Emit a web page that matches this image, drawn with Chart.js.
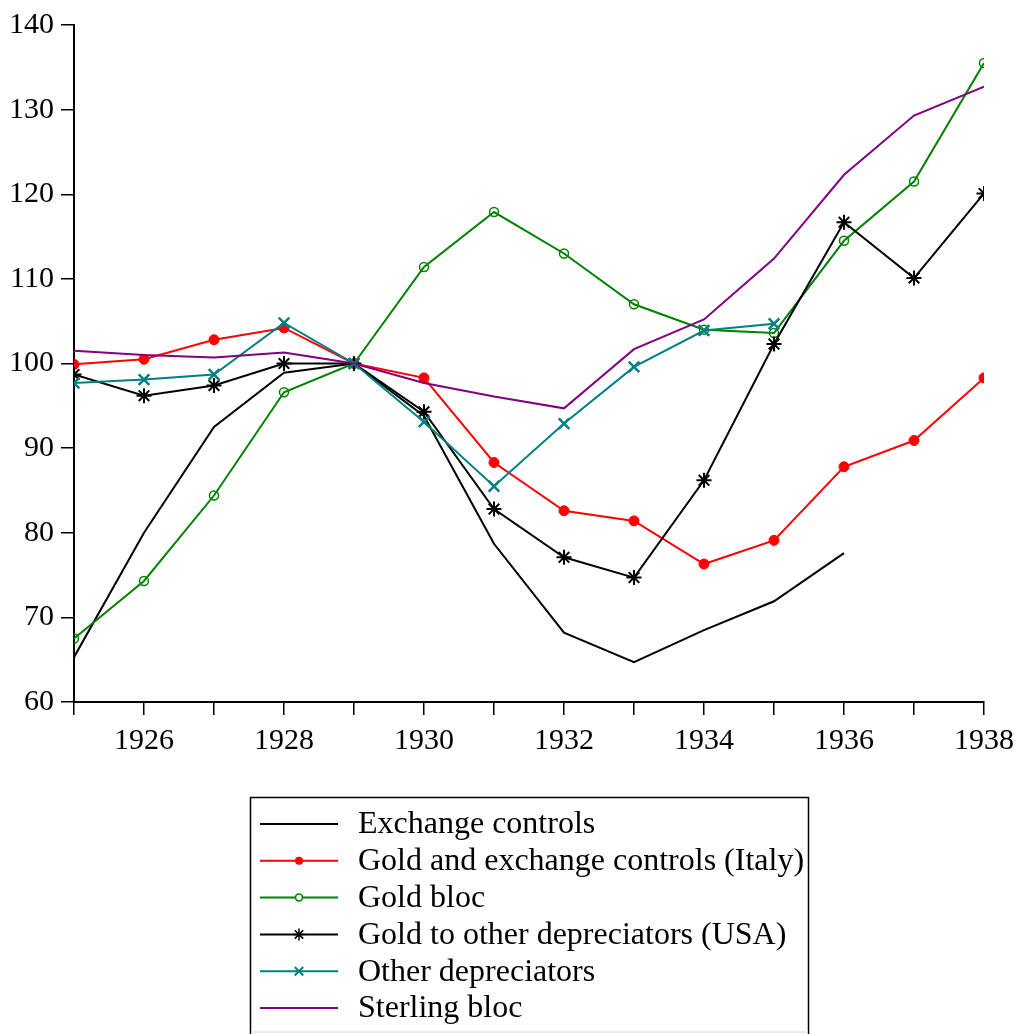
<!DOCTYPE html>
<html>
<head>
<meta charset="utf-8">
<script src="https://cdn.jsdelivr.net/npm/chart.js@4/dist/chart.umd.min.js"></script>
<style>
  html, body { margin: 0; padding: 0; background: #fff; }
  #wrap { width: 1022px; height: 1034px; }
</style>
</head>
<body>
<div id="wrap"><canvas id="c" width="1022" height="1034"></canvas></div>
<script>
const years = [1925, 1926, 1927, 1928, 1929, 1930, 1931, 1932, 1933, 1934, 1935, 1936, 1937, 1938];
const exchangeControls = [65.3, 80.0, 92.5, 98.9, 100, 93.8, 78.7, 68.2, 64.7, 68.5, 71.9, 77.6, null, null];
const goldExchangeItaly = [99.9, 100.5, 102.8, 104.2, 100, 98.3, 88.3, 82.6, 81.4, 76.3, 79.1, 87.8, 90.9, 98.3];
const goldBloc = [67.5, 74.3, 84.4, 96.6, 100, 111.4, 117.9, 113.0, 107.0, 104.0, 103.6, 114.5, 121.5, 135.5];
const goldToOtherUSA = [98.7, 96.2, 97.4, 100.0, 100, 94.3, 82.8, 77.1, 74.7, 86.2, 102.3, 116.7, 110.1, 120.1];
const otherDepreciators = [97.7, 98.1, 98.7, 104.8, 100, 93.1, 85.5, 92.9, 99.6, 103.9, 104.7, null, null, null];
const sterlingBloc = [101.5, 101.0, 100.7, 101.3, 100, 97.7, 96.1, 94.7, 101.7, 105.2, 112.4, 122.3, 129.3, 132.7];
const seriesNames = ["Exchange controls", "Gold and exchange controls (Italy)", "Gold bloc", "Gold to other depreciators (USA)", "Other depreciators", "Sterling bloc"];
const yTicks = [60, 70, 80, 90, 100, 110, 120, 130, 140];
const xLabelYears = [1926, 1928, 1930, 1932, 1934, 1936, 1938];

const FONT = "'Liberation Serif', 'Times New Roman', serif";

function pts(arr) {
  const out = [];
  arr.forEach((v, i) => { if (v !== null) out.push({ x: years[i], y: v }); });
  return out;
}

const styles = [
  { color: '#000000', pointStyle: 'circle', radius: 0, fill: false, bw: 2 },
  { color: '#ff0000', pointStyle: 'circle', radius: 5, fill: true, bw: 1 },
  { color: '#008000', pointStyle: 'circle', radius: 4.5, fill: false, bw: 1.5 },
  { color: '#000000', pointStyle: 'star', radius: 7.5, fill: false, bw: 2 },
  { color: '#008080', pointStyle: 'crossRot', radius: 7.5, fill: false, bw: 2.5 },
  { color: '#800080', pointStyle: 'circle', radius: 0, fill: false, bw: 2 }
];
const seriesData = [exchangeControls, goldExchangeItaly, goldBloc, goldToOtherUSA, otherDepreciators, sterlingBloc];

const datasets = seriesData.map((arr, i) => ({
  label: seriesNames[i],
  data: pts(arr),
  borderColor: styles[i].color,
  backgroundColor: styles[i].fill ? styles[i].color : 'rgba(0,0,0,0)',
  borderWidth: 2,
  pointStyle: styles[i].pointStyle,
  pointRadius: styles[i].radius,
  pointHoverRadius: styles[i].radius,
  pointBorderWidth: styles[i].bw,
  pointBorderColor: styles[i].color,
  pointBackgroundColor: styles[i].fill ? styles[i].color : 'rgba(0,0,0,0)',
  tension: 0,
  clip: 0,
  order: 6 - i
}));

const legendPlugin = {
  id: 'boxLegend',
  afterDraw(chart) {
    const ctx = chart.ctx;
    ctx.save();
    ctx.strokeStyle = '#000';
    ctx.lineWidth = 1.5;
    ctx.beginPath();
    ctx.moveTo(250.5, 1040); ctx.lineTo(250.5, 797.5); ctx.lineTo(808.5, 797.5); ctx.lineTo(808.5, 1040);
    ctx.stroke();
    ctx.strokeStyle = '#e4e4e4';
    ctx.lineWidth = 1.5;
    ctx.beginPath();
    ctx.moveTo(251, 1032); ctx.lineTo(808, 1032);
    ctx.stroke();
    const y0 = 824, dy = 36.8;
    const legendR = [0, 4, 3.5, 6, 6, 0];
    seriesNames.forEach((name, i) => {
      const y = y0 + i * dy;
      const st = styles[i];
      ctx.strokeStyle = st.color;
      ctx.lineWidth = 2;
      ctx.beginPath();
      ctx.moveTo(260, y);
      ctx.lineTo(338, y);
      ctx.stroke();
      const r = legendR[i];
      const cx = 299;
      if (r > 0) {
        ctx.lineWidth = st.bw;
        if (st.pointStyle === 'circle') {
          ctx.beginPath();
          ctx.arc(cx, y, r, 0, Math.PI * 2);
          if (st.fill) { ctx.fillStyle = st.color; ctx.fill(); }
          else { ctx.fillStyle = '#fff'; ctx.fill(); ctx.stroke(); }
        } else if (st.pointStyle === 'star') {
          ctx.lineWidth = 1.5;
          ctx.beginPath();
          ctx.moveTo(cx, y - r); ctx.lineTo(cx, y + r);
          ctx.moveTo(cx - r, y); ctx.lineTo(cx + r, y);
          const d = r * Math.SQRT1_2;
          ctx.moveTo(cx - d, y - d); ctx.lineTo(cx + d, y + d);
          ctx.moveTo(cx - d, y + d); ctx.lineTo(cx + d, y - d);
          ctx.stroke();
        } else if (st.pointStyle === 'crossRot') {
          ctx.lineWidth = 2;
          const d = r * Math.SQRT1_2;
          ctx.beginPath();
          ctx.moveTo(cx - d, y - d); ctx.lineTo(cx + d, y + d);
          ctx.moveTo(cx - d, y + d); ctx.lineTo(cx + d, y - d);
          ctx.stroke();
        }
      }
      ctx.fillStyle = '#000';
      ctx.font = '32px ' + FONT;
      ctx.textBaseline = 'middle';
      ctx.textAlign = 'left';
      ctx.fillText(name, 358, y + 1);
    });
    ctx.restore();
  }
};

new Chart(document.getElementById('c'), {
  type: 'line',
  data: { datasets },
  options: {
    responsive: false,
    animation: false,
    events: [],
    layout: { padding: { left: 0, top: 22, right: 37, bottom: 274 } },
    plugins: { legend: { display: false }, tooltip: { enabled: false } },
    scales: {
      x: {
        type: 'linear',
        min: years[0],
        max: years[years.length - 1],
        afterFit(scale) { scale.height = 58; },
        afterBuildTicks(scale) { scale.ticks = years.map(v => ({ value: v })); },
        ticks: {
          autoSkip: false,
          maxRotation: 0,
          padding: 8,
          color: '#000',
          font: { family: FONT, size: 30 },
          callback: (v) => xLabelYears.includes(v) ? String(v) : ''
        },
        grid: { drawOnChartArea: false, drawTicks: true, tickLength: 13, color: '#000', lineWidth: 1.5 },
        border: { display: true, color: '#000', width: 2 }
      },
      y: {
        type: 'linear',
        min: yTicks[0],
        max: yTicks[yTicks.length - 1],
        afterFit(scale) { scale.width = 74; },
        afterBuildTicks(scale) { scale.ticks = yTicks.map(v => ({ value: v })); },
        ticks: {
          padding: 7,
          color: '#000',
          font: { family: FONT, size: 30 },
          callback: (v) => String(v)
        },
        grid: { drawOnChartArea: false, drawTicks: true, tickLength: 13, color: '#000', lineWidth: 1.5 },
        border: { display: true, color: '#000', width: 2 }
      }
    }
  },
  plugins: [legendPlugin]
});
</script>
</body>
</html>
